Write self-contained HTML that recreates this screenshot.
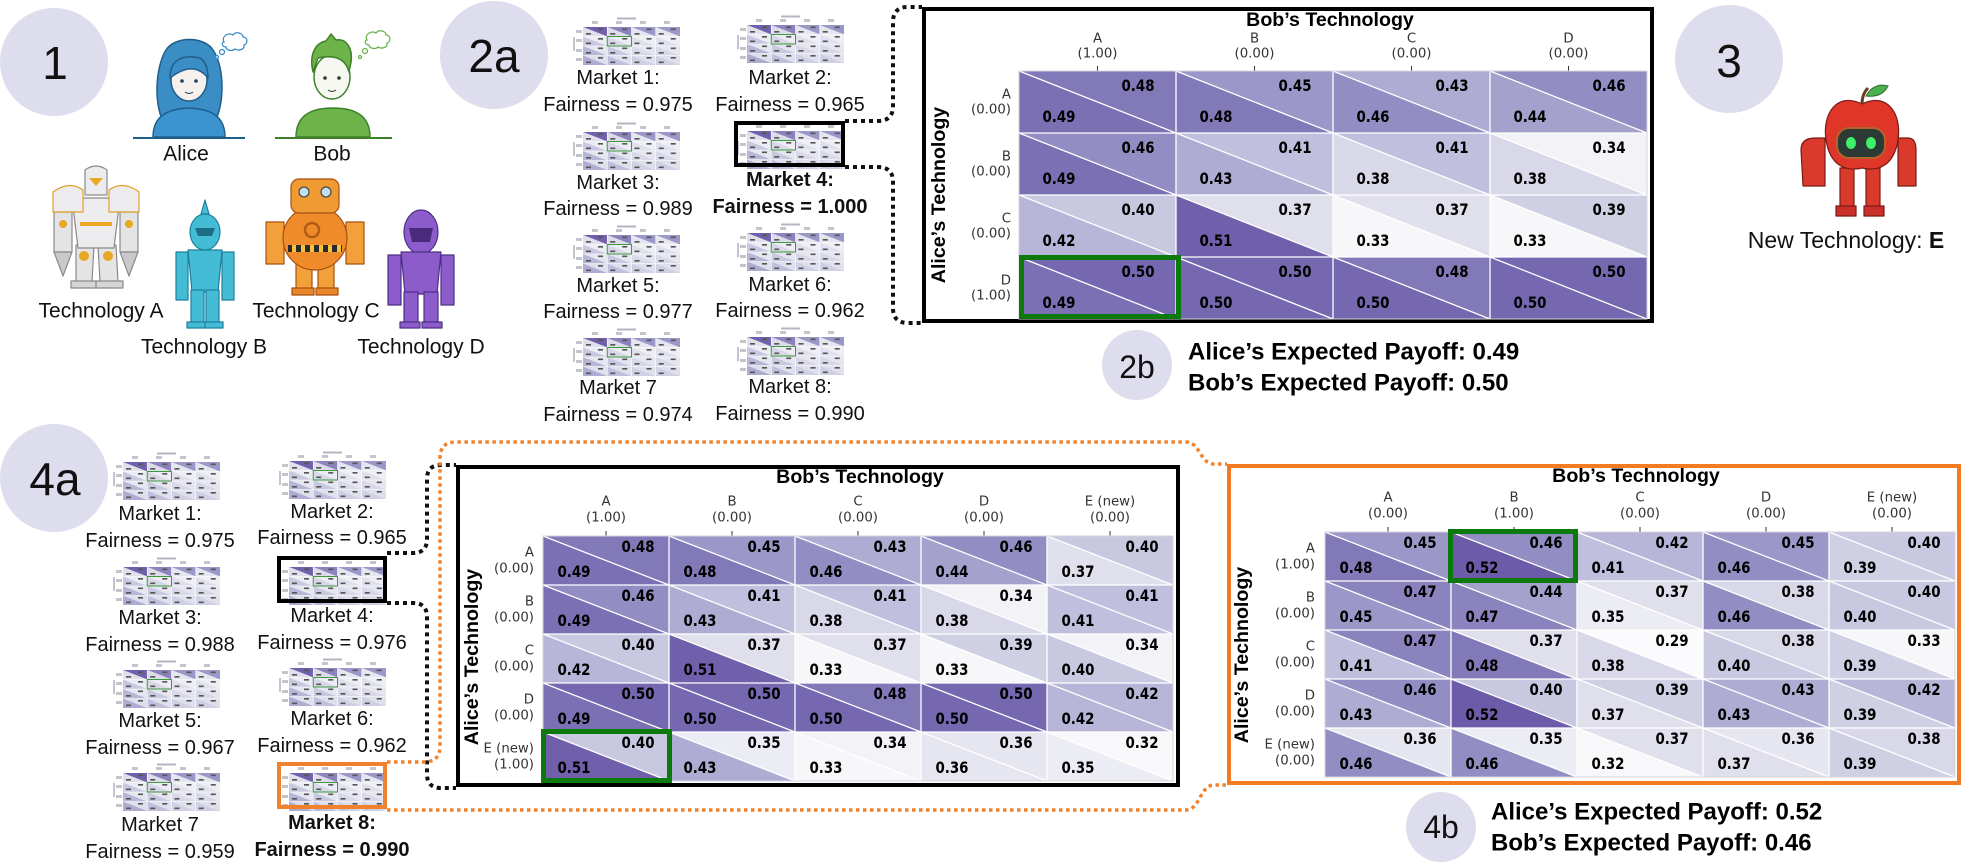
<!DOCTYPE html>
<html><head><meta charset="utf-8">
<style>
body{margin:0;background:#fff}
svg{display:block}
text{font-family:"Liberation Sans",sans-serif;fill:#111}
.c text{font-family:"DejaVu Sans",sans-serif;font-weight:bold;font-size:13.4px;text-anchor:middle;dominant-baseline:central;transform-box:fill-box;transform-origin:center;transform:scaleY(1.18);fill:#000}
.kx text{font-family:"DejaVu Sans",sans-serif;font-size:13.3px;fill:#333;dominant-baseline:central;text-anchor:middle}
.ky text{font-family:"DejaVu Sans",sans-serif;font-size:13.3px;fill:#333;dominant-baseline:central;text-anchor:end}
.ttl{font-weight:bold;font-size:19.6px;text-anchor:middle;dominant-baseline:central;fill:#000}
.lb{font-size:20px;text-anchor:middle;dominant-baseline:central}
.b{font-weight:bold}
.big{font-size:46px;text-anchor:middle;dominant-baseline:central}
.sm{font-size:32px;text-anchor:middle;dominant-baseline:central}
.pay{font-weight:bold;font-size:24px;dominant-baseline:central;fill:#000}
</style></head><body>
<svg width="1965" height="868" viewBox="0 0 1965 868" xmlns="http://www.w3.org/2000/svg">
<defs>
<path id="tU" d="M0 0H157V62Z"/><path id="tL" d="M0 0V62H157Z"/>
<path id="sU" d="M0 0H126V49Z"/><path id="sL" d="M0 0V49H126Z"/>
<path id="qU" d="M0 0h24.25v9.5z"/><path id="qL" d="M0 0v9.5h24.25z"/>
<path id="sp" d="M15 1.5h5v1.6h-5zM3 6h5v1.6h-5z"/>
<g id="th">
<rect x="44" y="0.5" width="19" height="2" fill="#b5b5c0"/>
<g fill="#c4c4cc"><rect x="19" y="4" width="6" height="3"/><rect x="43" y="4" width="6" height="3"/><rect x="67" y="4" width="6" height="3"/><rect x="91" y="4" width="6" height="3"/><rect x="3" y="13" width="6" height="3"/><rect x="3" y="22" width="6" height="3"/><rect x="3" y="32" width="6" height="3"/><rect x="3" y="41" width="6" height="3"/><rect x="0" y="20" width="2" height="14"/></g>
<use href="#qU" x="10" y="10" fill="#7060ac"/><use href="#qL" x="10" y="10" fill="#e0e0ed"/>
<use href="#qU" x="34.25" y="10" fill="#8a83be"/><use href="#qL" x="34.25" y="10" fill="#dcdcea"/>
<use href="#qU" x="58.5" y="10" fill="#9b97c8"/><use href="#qL" x="58.5" y="10" fill="#e6e6f0"/>
<use href="#qU" x="82.75" y="10" fill="#9b97c8"/><use href="#qL" x="82.75" y="10" fill="#e6e6f0"/>
<use href="#qU" x="10" y="19.5" fill="#ececf4"/><use href="#qL" x="10" y="19.5" fill="#c8c8e1"/>
<use href="#qU" x="34.25" y="19.5" fill="#ececf4"/><use href="#qL" x="34.25" y="19.5" fill="#d8d8e9"/>
<use href="#qU" x="58.5" y="19.5" fill="#eeeef5"/><use href="#qL" x="58.5" y="19.5" fill="#e0e0ed"/>
<use href="#qU" x="82.75" y="19.5" fill="#eeeef5"/><use href="#qL" x="82.75" y="19.5" fill="#e0e0ed"/>
<use href="#qU" x="10" y="29" fill="#e6e6f0"/><use href="#qL" x="10" y="29" fill="#b7b6d8"/>
<use href="#qU" x="34.25" y="29" fill="#e6e6f0"/><use href="#qL" x="34.25" y="29" fill="#c8c8e1"/>
<use href="#qU" x="58.5" y="29" fill="#e6e6f0"/><use href="#qL" x="58.5" y="29" fill="#d8d8e9"/>
<use href="#qU" x="82.75" y="29" fill="#e6e6f0"/><use href="#qL" x="82.75" y="29" fill="#d8d8e9"/>
<use href="#qU" x="10" y="38.5" fill="#e0e0ed"/><use href="#qL" x="10" y="38.5" fill="#aeacd3"/>
<use href="#qU" x="34.25" y="38.5" fill="#e0e0ed"/><use href="#qL" x="34.25" y="38.5" fill="#c0bfdd"/>
<use href="#qU" x="58.5" y="38.5" fill="#e0e0ed"/><use href="#qL" x="58.5" y="38.5" fill="#d0d0e5"/>
<use href="#qU" x="82.75" y="38.5" fill="#e0e0ed"/><use href="#qL" x="82.75" y="38.5" fill="#d0d0e5"/>
<path d="M34.25 10V48M58.5 10V48M82.75 10V48M10 19.5H107M10 29H107M10 38.5H107" stroke="#fff" stroke-width="0.6"/>
<g fill="#555">
<use href="#sp" x="10" y="10"/><use href="#sp" x="34.25" y="10"/><use href="#sp" x="58.5" y="10"/><use href="#sp" x="82.75" y="10"/>
<use href="#sp" x="10" y="19.5"/><use href="#sp" x="34.25" y="19.5"/><use href="#sp" x="58.5" y="19.5"/><use href="#sp" x="82.75" y="19.5"/>
<use href="#sp" x="10" y="29"/><use href="#sp" x="34.25" y="29"/><use href="#sp" x="58.5" y="29"/><use href="#sp" x="82.75" y="29"/>
<use href="#sp" x="10" y="38.5"/><use href="#sp" x="34.25" y="38.5"/><use href="#sp" x="58.5" y="38.5"/><use href="#sp" x="82.75" y="38.5"/>
</g>
<rect x="34.25" y="19.5" width="24.25" height="9.5" fill="none" stroke="#3d9b3d" stroke-width="1"/>
</g>
</defs>

<!-- circles -->
<g fill="#dddded">
<circle cx="54" cy="62" r="54"/><circle cx="494" cy="55" r="54"/><circle cx="1729" cy="59" r="54"/><circle cx="54" cy="478" r="54"/>
<circle cx="1137" cy="365" r="35"/><circle cx="1441" cy="827" r="35"/>
</g>
<text class="big" x="55" y="63">1</text>
<text class="big" x="494" y="56">2a</text>
<text class="big" x="1729" y="61">3</text>
<text class="big" x="55" y="479">4a</text>
<text class="sm" x="1137" y="367">2b</text>
<text class="sm" x="1441" y="827">4b</text>

<!-- Alice -->
<g stroke="#1f5e8a" stroke-width="1.5" stroke-linejoin="round">
<path d="M163 122C152 96 158 62 166 50C175 36 204 36 213 50C223 64 226 98 215 122Z" fill="#3b8dc6"/>
<path d="M153 137C153 117 166 109 189 108C212 109 225 117 225 137Z" fill="#3b93cf"/>
<ellipse cx="189" cy="80" rx="18" ry="21" fill="#f6f1ed"/>
<path d="M170 78C170 60 182 54 200 58C206 62 208 70 208 78C200 68 188 64 170 78Z" fill="#3b8dc6"/>
</g>
<circle cx="182" cy="81" r="1.8" fill="#1f3f5a"/><circle cx="196" cy="81" r="1.8" fill="#1f3f5a"/>
<path d="M185 92q4 3 8 0" stroke="#1f3f5a" fill="none"/>
<line x1="133" y1="138" x2="245" y2="138" stroke="#1f5e8a" stroke-width="2"/>
<g fill="#fff" stroke="#3b8dc6" stroke-width="1.3"><circle cx="217" cy="57" r="1.5"/><circle cx="222" cy="52" r="2.5"/><path d="M224 42c-3-6 5-10 9-7c3-4 10-2 10 2c5 0 5 7 1 8c1 5-6 6-9 4c-3 3-9 1-9-2c-4 0-5-5-2-5z"/></g>
<text class="lb" x="186" y="154" style="font-size:21px">Alice</text>

<!-- Bob -->
<g stroke="#3e7f2a" stroke-width="1.5" stroke-linejoin="round">
<path d="M296 137C296 116 310 108 333 108C356 108 370 116 370 137Z" fill="#6cb34a"/>
<ellipse cx="332" cy="77" rx="18" ry="22" fill="#f5f7f0"/>
<path d="M313 72C309 55 315 43 326 41L331 34L336 40C346 38 353 48 351 62L349 72C346 60 337 54 318 58Z" fill="#6cb34a"/>
</g>
<circle cx="325" cy="78" r="1.8" fill="#24401a"/><circle cx="339" cy="78" r="1.8" fill="#24401a"/>
<path d="M328 90q4 3 8 0" stroke="#24401a" fill="none"/>
<line x1="275" y1="138" x2="392" y2="138" stroke="#3e7f2a" stroke-width="2"/>
<g fill="#fff" stroke="#6cb34a" stroke-width="1.3"><circle cx="360" cy="57" r="1.5"/><circle cx="365" cy="51" r="2.5"/><path d="M367 40c-3-6 5-10 9-7c3-4 10-2 10 2c5 0 5 7 1 8c1 5-6 6-9 4c-3 3-9 1-9-2c-4 0-5-5-2-5z"/></g>
<text class="lb" x="332" y="154" style="font-size:21px">Bob</text>

<!-- Tech A -->
<g stroke="#8a8a8a" stroke-width="1.2" stroke-linejoin="round">
<path d="M76 245h18l-2 37h-16zM98 245h18l2 37h-18z" fill="#e4e4e6"/>
<path d="M71 281h25v7h-25zM96 281h27v7h-27z" fill="#d6d6d9"/>
<path d="M54 212h18v40h-18zM120 212h18v40h-18z" fill="#e4e4e6"/>
<path d="M54 252h18l-9 24zM120 252h18l-9 24z" fill="#c9c9cd"/>
<path d="M72 198h48l-6 50h-36z" fill="#ececee"/>
<path d="M53 192q16-12 30-2v22h-30zM109 190q14-10 30 2v20h-30z" fill="#ececee" stroke="#e0a326"/>
<path d="M85 170q11-8 22 0v25h-22z" fill="#ececee"/>
</g>
<g fill="#e9a823"><path d="M89 178h14l-7 8z"/><rect x="80" y="222" width="32" height="4"/><circle cx="84" cy="256" r="5"/><circle cx="108" cy="256" r="5"/><circle cx="63" cy="224" r="4"/><circle cx="129" cy="224" r="4"/></g>
<text class="lb" x="101" y="311" style="font-size:21px">Technology A</text>

<!-- Tech B -->
<g stroke="#1f7f9e" stroke-width="1.2" stroke-linejoin="round" fill="#44bcd6">
<path d="M205 200l4 14h-8z"/>
<ellipse cx="205" cy="232" rx="15" ry="18"/>
<path d="M188 250h34l-4 42h-26z"/>
<path d="M176 252h12v48h-12zM222 252h12v48h-12z"/>
<path d="M191 290h13v34h-13zM206 290h13v34h-13z"/>
<path d="M187 322h18v6h-18zM205 322h18v6h-18z"/>
</g>
<path d="M195 228h20l-3 8h-14z" fill="#1e6d86"/>
<text class="lb" x="204" y="347" style="font-size:21px">Technology B</text>

<!-- Tech C -->
<g stroke="#a84f10" stroke-width="1.2" stroke-linejoin="round">
<path d="M296 262h16v28h-16zM318 262h16v28h-16z" fill="#f2a13a"/>
<path d="M292 288h22v7h-22zM316 288h22v7h-22z" fill="#e8862a"/>
<path d="M266 222h18v42h-18zM346 222h18v42h-18z" fill="#f2a13a"/>
<ellipse cx="315" cy="238" rx="32" ry="32" fill="#ef8b2a"/>
<rect x="291" y="179" width="48" height="34" rx="8" fill="#f09a33"/>
</g>
<rect x="288" y="245" width="54" height="7" fill="#2a2a2a"/>
<g fill="#f6c23c"><rect x="292" y="245" width="4" height="7"/><rect x="301" y="245" width="4" height="7"/><rect x="310" y="245" width="4" height="7"/><rect x="319" y="245" width="4" height="7"/><rect x="328" y="245" width="4" height="7"/><rect x="337" y="245" width="4" height="7"/></g>
<circle cx="304" cy="192" r="5" fill="#bfe0f0" stroke="#333"/><circle cx="326" cy="192" r="5" fill="#bfe0f0" stroke="#333"/>
<circle cx="312" cy="230" r="7" fill="none" stroke="#b35a14" stroke-width="2.5"/>
<text class="lb" x="316" y="311" style="font-size:21px">Technology C</text>

<!-- Tech D -->
<g stroke="#4e2f86" stroke-width="1.2" stroke-linejoin="round" fill="#8c5ccb">
<ellipse cx="421" cy="232" rx="17" ry="22"/>
<path d="M401 252h40l-4 42h-32z"/>
<path d="M388 255h13v50h-13zM441 255h13v50h-13z"/>
<path d="M404 292h14v32h-14zM424 292h14v32h-14z"/>
<path d="M400 322h20v6h-20zM422 322h20v6h-20z"/>
</g>
<path d="M409 228h24l-3 14h-18z" fill="#4a2a7a"/>
<text class="lb" x="421" y="347" style="font-size:21px">Technology D</text>

<!-- Apple robot -->
<g stroke="#7a1a14" stroke-width="1.2" stroke-linejoin="round">
<path d="M1840 168h14v40h-14zM1866 168h14v40h-14z" fill="#d93a2c"/>
<path d="M1836 206h20v10h-20zM1864 206h20v10h-20z" fill="#c9302a"/>
<path d="M1801 150q0-12 14-12h10v48h-22z" fill="#d93a2c"/>
<path d="M1898 138h10q8 0 8 12v36h-18z" fill="#d93a2c"/>
<path d="M1862 104C1838 92 1822 112 1826 140C1830 165 1845 172 1862 168C1879 172 1894 165 1898 140C1902 112 1886 92 1862 104Z" fill="#e0362a"/>
</g>
<path d="M1862 104q0-10 6-16" stroke="#6b3b1a" stroke-width="3" fill="none"/>
<path d="M1866 96q8-14 22-10q-6 12-22 10z" fill="#4caf50" stroke="#2c6e2f"/>
<rect x="1837" y="128" width="48" height="30" rx="12" fill="#2b3a35" stroke="#b3642d" stroke-width="2"/>
<ellipse cx="1851" cy="143" rx="5" ry="6" fill="#3ef06a"/><ellipse cx="1871" cy="143" rx="5" ry="6" fill="#3ef06a"/>
<text x="1846" y="240" style="font-size:23px;text-anchor:middle;dominant-baseline:central">New Technology: <tspan class="b">E</tspan></text>

<!-- 2a thumbnails & labels -->
<use href="#th" x="573" y="17"/><use href="#th" x="737" y="15"/>
<use href="#th" x="573" y="122"/><use href="#th" x="737" y="121"/>
<use href="#th" x="573" y="225"/><use href="#th" x="737" y="223"/>
<use href="#th" x="573" y="328"/><use href="#th" x="737" y="327"/>
<rect x="736" y="123" width="107" height="42" fill="none" stroke="#000" stroke-width="4"/>
<text class="lb" x="618" y="78">Market 1:</text><text class="lb" x="618" y="105">Fairness = 0.975</text>
<text class="lb" x="790" y="78">Market 2:</text><text class="lb" x="790" y="105">Fairness = 0.965</text>
<text class="lb" x="618" y="183">Market 3:</text><text class="lb" x="618" y="209">Fairness = 0.989</text>
<text class="lb b" x="790" y="180">Market 4:</text><text class="lb b" x="790" y="207">Fairness = 1.000</text>
<text class="lb" x="618" y="286">Market 5:</text><text class="lb" x="618" y="312">Fairness = 0.977</text>
<text class="lb" x="790" y="285">Market 6:</text><text class="lb" x="790" y="311">Fairness = 0.962</text>
<text class="lb" x="618" y="388">Market 7</text><text class="lb" x="618" y="415">Fairness = 0.974</text>
<text class="lb" x="790" y="387">Market 8:</text><text class="lb" x="790" y="414">Fairness = 0.990</text>

<!-- 4a thumbnails & labels -->
<use href="#th" x="113" y="452"/><use href="#th" x="279" y="451"/>
<use href="#th" x="113" y="557"/><use href="#th" x="279" y="557"/>
<use href="#th" x="113" y="660"/><use href="#th" x="279" y="658"/>
<use href="#th" x="113" y="763"/><use href="#th" x="279" y="763"/>
<rect x="279" y="558" width="106" height="43" fill="none" stroke="#000" stroke-width="4"/>
<rect x="279" y="764" width="106" height="43" fill="none" stroke="#f0822d" stroke-width="4"/>
<text class="lb" x="160" y="514">Market 1:</text><text class="lb" x="160" y="541">Fairness = 0.975</text>
<text class="lb" x="332" y="512">Market 2:</text><text class="lb" x="332" y="538">Fairness = 0.965</text>
<text class="lb" x="160" y="618">Market 3:</text><text class="lb" x="160" y="645">Fairness = 0.988</text>
<text class="lb" x="332" y="616">Market 4:</text><text class="lb" x="332" y="643">Fairness = 0.976</text>
<text class="lb" x="160" y="721">Market 5:</text><text class="lb" x="160" y="748">Fairness = 0.967</text>
<text class="lb" x="332" y="719">Market 6:</text><text class="lb" x="332" y="746">Fairness = 0.962</text>
<text class="lb" x="160" y="825">Market 7</text><text class="lb" x="160" y="852">Fairness = 0.959</text>
<text class="lb b" x="332" y="823">Market 8:</text><text class="lb b" x="332" y="850">Fairness = 0.990</text>

<!-- connectors -->
<g fill="none" stroke="#111" stroke-width="4" stroke-dasharray="4 4">
<path d="M845 121H878Q893 121 893 106V22Q893 7 908 7H922"/>
<path d="M845 167H878Q893 167 893 182V308Q893 323 908 323H922"/>
<path d="M387 553H413Q427 553 427 539V479Q427 465 441 465H456"/>
<path d="M387 603H413Q427 603 427 617V774Q427 788 441 788H456"/>
</g>
<g fill="none" stroke="#f0822d" stroke-width="3.5" stroke-dasharray="3.5 3.5">
<path d="M387 762H424Q440 762 440 746V458Q440 442 456 442H1186C1200 442 1200 464 1214 464H1227"/>
<path d="M387 810H1186C1200 810 1200 785 1214 785H1227"/>
</g>

<!-- ===== TOP MATRIX ===== -->
<rect x="924" y="9" width="728" height="312" fill="#fff" stroke="#000" stroke-width="4"/>
<text class="ttl" x="1330" y="20">Bob’s Technology</text>
<text class="ttl" transform="translate(939 195) rotate(-90)">Alice’s Technology</text>
<g class="kx">
<text x="1097.5" y="39">A</text><text x="1097.5" y="54">(1.00)</text>
<text x="1254.5" y="39">B</text><text x="1254.5" y="54">(0.00)</text>
<text x="1411.5" y="39">C</text><text x="1411.5" y="54">(0.00)</text>
<text x="1568.5" y="39">D</text><text x="1568.5" y="54">(0.00)</text>
</g>
<path d="M1097.5 66V71M1254.5 66V71M1411.5 66V71M1568.5 66V71" stroke="#333"/>
<g class="ky">
<text x="1011" y="95">A</text><text x="1011" y="110">(0.00)</text>
<text x="1011" y="157">B</text><text x="1011" y="172">(0.00)</text>
<text x="1011" y="219">C</text><text x="1011" y="234">(0.00)</text>
<text x="1011" y="281">D</text><text x="1011" y="296">(1.00)</text>
</g>
<g class="c">
<g transform="translate(1019 71)"><use href="#tU" fill="#8279b9"/><use href="#tL" fill="#7b70b4"/><text x="119" y="15">0.48</text><text x="40" y="46">0.49</text></g>
<g transform="translate(1176 71)"><use href="#tU" fill="#9b97c8"/><use href="#tL" fill="#8279b9"/><text x="119" y="15">0.45</text><text x="40" y="46">0.48</text></g>
<g transform="translate(1333 71)"><use href="#tU" fill="#aeacd3"/><use href="#tL" fill="#928dc3"/><text x="119" y="15">0.43</text><text x="40" y="46">0.46</text></g>
<g transform="translate(1490 71)"><use href="#tU" fill="#928dc3"/><use href="#tL" fill="#a4a1cd"/><text x="119" y="15">0.46</text><text x="40" y="46">0.44</text></g>
<g transform="translate(1019 133)"><use href="#tU" fill="#928dc3"/><use href="#tL" fill="#7b70b4"/><text x="119" y="15">0.46</text><text x="40" y="46">0.49</text></g>
<g transform="translate(1176 133)"><use href="#tU" fill="#c0bfdd"/><use href="#tL" fill="#aeacd3"/><text x="119" y="15">0.41</text><text x="40" y="46">0.43</text></g>
<g transform="translate(1333 133)"><use href="#tU" fill="#c0bfdd"/><use href="#tL" fill="#d8d8e9"/><text x="119" y="15">0.41</text><text x="40" y="46">0.38</text></g>
<g transform="translate(1490 133)"><use href="#tU" fill="#f2f2f7"/><use href="#tL" fill="#d8d8e9"/><text x="119" y="15">0.34</text><text x="40" y="46">0.38</text></g>
<g transform="translate(1019 195)"><use href="#tU" fill="#c8c8e1"/><use href="#tL" fill="#b7b6d8"/><text x="119" y="15">0.40</text><text x="40" y="46">0.42</text></g>
<g transform="translate(1176 195)"><use href="#tU" fill="#e0e0ed"/><use href="#tL" fill="#7060ac"/><text x="119" y="15">0.37</text><text x="40" y="46">0.51</text></g>
<g transform="translate(1333 195)"><use href="#tU" fill="#e0e0ed"/><use href="#tL" fill="#f7f7fa"/><text x="119" y="15">0.37</text><text x="40" y="46">0.33</text></g>
<g transform="translate(1490 195)"><use href="#tU" fill="#d0d0e5"/><use href="#tL" fill="#f7f7fa"/><text x="119" y="15">0.39</text><text x="40" y="46">0.33</text></g>
<g transform="translate(1019 257)"><use href="#tU" fill="#7567b0"/><use href="#tL" fill="#7b70b4"/><text x="119" y="15">0.50</text><text x="40" y="46">0.49</text></g>
<g transform="translate(1176 257)"><use href="#tU" fill="#7567b0"/><use href="#tL" fill="#7567b0"/><text x="119" y="15">0.50</text><text x="40" y="46">0.50</text></g>
<g transform="translate(1333 257)"><use href="#tU" fill="#8279b9"/><use href="#tL" fill="#7567b0"/><text x="119" y="15">0.48</text><text x="40" y="46">0.50</text></g>
<g transform="translate(1490 257)"><use href="#tU" fill="#7567b0"/><use href="#tL" fill="#7567b0"/><text x="119" y="15">0.50</text><text x="40" y="46">0.50</text></g>
</g>
<path d="M1176 71V319M1333 71V319M1490 71V319M1019 133H1647M1019 195H1647M1019 257H1647M1019 71l157 62m0-62l157 62m0-62l157 62m0-62l157 62M1019 133l157 62m0-62l157 62m0-62l157 62m0-62l157 62M1019 195l157 62m0-62l157 62m0-62l157 62m0-62l157 62M1019 257l157 62m0-62l157 62m0-62l157 62m0-62l157 62" stroke="#fff" stroke-width="1.3" fill="none"/>
<rect x="1019" y="71" width="628" height="248" fill="none" stroke="#d4d4dc" stroke-width="1"/>
<rect x="1021.5" y="257.5" width="157" height="59" fill="none" stroke="#0b7a0b" stroke-width="5"/>

<text class="pay" x="1188" y="352">Alice’s Expected Payoff: 0.49</text>
<text class="pay" x="1188" y="383">Bob’s Expected Payoff: 0.50</text>

<!-- ===== LOWER LEFT MATRIX ===== -->
<rect x="458" y="467" width="720" height="318" fill="#fff" stroke="#000" stroke-width="4"/>
<text class="ttl" x="860" y="477">Bob’s Technology</text>
<text class="ttl" transform="translate(472 657) rotate(-90)">Alice’s Technology</text>
<g class="kx">
<text x="606" y="502">A</text><text x="606" y="518">(1.00)</text>
<text x="732" y="502">B</text><text x="732" y="518">(0.00)</text>
<text x="858" y="502">C</text><text x="858" y="518">(0.00)</text>
<text x="984" y="502">D</text><text x="984" y="518">(0.00)</text>
<text x="1110" y="502">E (new)</text><text x="1110" y="518">(0.00)</text>
</g>
<path d="M606 531V536M732 531V536M858 531V536M984 531V536M1110 531V536" stroke="#333"/>
<g class="ky">
<text x="534" y="553">A</text><text x="534" y="569">(0.00)</text>
<text x="534" y="602">B</text><text x="534" y="618">(0.00)</text>
<text x="534" y="651">C</text><text x="534" y="667">(0.00)</text>
<text x="534" y="700">D</text><text x="534" y="716">(0.00)</text>
<text x="534" y="749">E (new)</text><text x="534" y="765">(1.00)</text>
</g>
<g class="c">
<g transform="translate(543 536)"><use href="#sU" fill="#8279b9"/><use href="#sL" fill="#7b70b4"/><text x="95" y="11">0.48</text><text x="31" y="36">0.49</text></g>
<g transform="translate(669 536)"><use href="#sU" fill="#9b97c8"/><use href="#sL" fill="#8279b9"/><text x="95" y="11">0.45</text><text x="31" y="36">0.48</text></g>
<g transform="translate(795 536)"><use href="#sU" fill="#aeacd3"/><use href="#sL" fill="#928dc3"/><text x="95" y="11">0.43</text><text x="31" y="36">0.46</text></g>
<g transform="translate(921 536)"><use href="#sU" fill="#928dc3"/><use href="#sL" fill="#a4a1cd"/><text x="95" y="11">0.46</text><text x="31" y="36">0.44</text></g>
<g transform="translate(1047 536)"><use href="#sU" fill="#c8c8e1"/><use href="#sL" fill="#e0e0ed"/><text x="95" y="11">0.40</text><text x="31" y="36">0.37</text></g>
<g transform="translate(543 585)"><use href="#sU" fill="#928dc3"/><use href="#sL" fill="#7b70b4"/><text x="95" y="11">0.46</text><text x="31" y="36">0.49</text></g>
<g transform="translate(669 585)"><use href="#sU" fill="#c0bfdd"/><use href="#sL" fill="#aeacd3"/><text x="95" y="11">0.41</text><text x="31" y="36">0.43</text></g>
<g transform="translate(795 585)"><use href="#sU" fill="#c0bfdd"/><use href="#sL" fill="#d8d8e9"/><text x="95" y="11">0.41</text><text x="31" y="36">0.38</text></g>
<g transform="translate(921 585)"><use href="#sU" fill="#f2f2f7"/><use href="#sL" fill="#d8d8e9"/><text x="95" y="11">0.34</text><text x="31" y="36">0.38</text></g>
<g transform="translate(1047 585)"><use href="#sU" fill="#c0bfdd"/><use href="#sL" fill="#c0bfdd"/><text x="95" y="11">0.41</text><text x="31" y="36">0.41</text></g>
<g transform="translate(543 634)"><use href="#sU" fill="#c8c8e1"/><use href="#sL" fill="#b7b6d8"/><text x="95" y="11">0.40</text><text x="31" y="36">0.42</text></g>
<g transform="translate(669 634)"><use href="#sU" fill="#e0e0ed"/><use href="#sL" fill="#7060ac"/><text x="95" y="11">0.37</text><text x="31" y="36">0.51</text></g>
<g transform="translate(795 634)"><use href="#sU" fill="#e0e0ed"/><use href="#sL" fill="#f7f7fa"/><text x="95" y="11">0.37</text><text x="31" y="36">0.33</text></g>
<g transform="translate(921 634)"><use href="#sU" fill="#d0d0e5"/><use href="#sL" fill="#f7f7fa"/><text x="95" y="11">0.39</text><text x="31" y="36">0.33</text></g>
<g transform="translate(1047 634)"><use href="#sU" fill="#f2f2f7"/><use href="#sL" fill="#c8c8e1"/><text x="95" y="11">0.34</text><text x="31" y="36">0.40</text></g>
<g transform="translate(543 683)"><use href="#sU" fill="#7567b0"/><use href="#sL" fill="#7b70b4"/><text x="95" y="11">0.50</text><text x="31" y="36">0.49</text></g>
<g transform="translate(669 683)"><use href="#sU" fill="#7567b0"/><use href="#sL" fill="#7567b0"/><text x="95" y="11">0.50</text><text x="31" y="36">0.50</text></g>
<g transform="translate(795 683)"><use href="#sU" fill="#8279b9"/><use href="#sL" fill="#7567b0"/><text x="95" y="11">0.48</text><text x="31" y="36">0.50</text></g>
<g transform="translate(921 683)"><use href="#sU" fill="#7567b0"/><use href="#sL" fill="#7567b0"/><text x="95" y="11">0.50</text><text x="31" y="36">0.50</text></g>
<g transform="translate(1047 683)"><use href="#sU" fill="#b7b6d8"/><use href="#sL" fill="#b7b6d8"/><text x="95" y="11">0.42</text><text x="31" y="36">0.42</text></g>
<g transform="translate(543 732)"><use href="#sU" fill="#c8c8e1"/><use href="#sL" fill="#7060ac"/><text x="95" y="11">0.40</text><text x="31" y="36">0.51</text></g>
<g transform="translate(669 732)"><use href="#sU" fill="#ececf4"/><use href="#sL" fill="#aeacd3"/><text x="95" y="11">0.35</text><text x="31" y="36">0.43</text></g>
<g transform="translate(795 732)"><use href="#sU" fill="#f2f2f7"/><use href="#sL" fill="#f7f7fa"/><text x="95" y="11">0.34</text><text x="31" y="36">0.33</text></g>
<g transform="translate(921 732)"><use href="#sU" fill="#e6e6f0"/><use href="#sL" fill="#e6e6f0"/><text x="95" y="11">0.36</text><text x="31" y="36">0.36</text></g>
<g transform="translate(1047 732)"><use href="#sU" fill="#f8f8fb"/><use href="#sL" fill="#ececf4"/><text x="95" y="11">0.32</text><text x="31" y="36">0.35</text></g>
</g>
<path d="M669 536V781M795 536V781M921 536V781M1047 536V781M543 585H1173M543 634H1173M543 683H1173M543 732H1173M543 536l126 49m0-49l126 49m0-49l126 49m0-49l126 49m0-49l126 49M543 585l126 49m0-49l126 49m0-49l126 49m0-49l126 49m0-49l126 49M543 634l126 49m0-49l126 49m0-49l126 49m0-49l126 49m0-49l126 49M543 683l126 49m0-49l126 49m0-49l126 49m0-49l126 49m0-49l126 49M543 732l126 49m0-49l126 49m0-49l126 49m0-49l126 49m0-49l126 49" stroke="#fff" stroke-width="1.3" fill="none"/>
<rect x="543" y="536" width="630" height="245" fill="none" stroke="#d4d4dc" stroke-width="1"/>
<rect x="543.5" y="731.5" width="126" height="49" fill="none" stroke="#0b7a0b" stroke-width="5"/>

<!-- ===== LOWER RIGHT MATRIX ===== -->
<rect x="1229" y="466" width="730" height="317" fill="#fff" stroke="#f37b21" stroke-width="4"/>
<text class="ttl" x="1636" y="476">Bob’s Technology</text>
<text class="ttl" transform="translate(1242 655) rotate(-90)">Alice’s Technology</text>
<g class="kx">
<text x="1388" y="498">A</text><text x="1388" y="514">(0.00)</text>
<text x="1514" y="498">B</text><text x="1514" y="514">(1.00)</text>
<text x="1640" y="498">C</text><text x="1640" y="514">(0.00)</text>
<text x="1766" y="498">D</text><text x="1766" y="514">(0.00)</text>
<text x="1892" y="498">E (new)</text><text x="1892" y="514">(0.00)</text>
</g>
<path d="M1388 527V532M1514 527V532M1640 527V532M1766 527V532M1892 527V532" stroke="#333"/>
<g class="ky">
<text x="1315" y="549">A</text><text x="1315" y="565">(1.00)</text>
<text x="1315" y="598">B</text><text x="1315" y="614">(0.00)</text>
<text x="1315" y="647">C</text><text x="1315" y="663">(0.00)</text>
<text x="1315" y="696">D</text><text x="1315" y="712">(0.00)</text>
<text x="1315" y="745">E (new)</text><text x="1315" y="761">(0.00)</text>
</g>
<g class="c">
<g transform="translate(1325 532)"><use href="#sU" fill="#9b97c8"/><use href="#sL" fill="#8279b9"/><text x="95" y="11">0.45</text><text x="31" y="36">0.48</text></g>
<g transform="translate(1451 532)"><use href="#sU" fill="#928dc3"/><use href="#sL" fill="#6c5ba9"/><text x="95" y="11">0.46</text><text x="31" y="36">0.52</text></g>
<g transform="translate(1577 532)"><use href="#sU" fill="#b7b6d8"/><use href="#sL" fill="#c0bfdd"/><text x="95" y="11">0.42</text><text x="31" y="36">0.41</text></g>
<g transform="translate(1703 532)"><use href="#sU" fill="#9b97c8"/><use href="#sL" fill="#928dc3"/><text x="95" y="11">0.45</text><text x="31" y="36">0.46</text></g>
<g transform="translate(1829 532)"><use href="#sU" fill="#c8c8e1"/><use href="#sL" fill="#d0d0e5"/><text x="95" y="11">0.40</text><text x="31" y="36">0.39</text></g>
<g transform="translate(1325 581)"><use href="#sU" fill="#8a83be"/><use href="#sL" fill="#9b97c8"/><text x="95" y="11">0.47</text><text x="31" y="36">0.45</text></g>
<g transform="translate(1451 581)"><use href="#sU" fill="#a4a1cd"/><use href="#sL" fill="#8a83be"/><text x="95" y="11">0.44</text><text x="31" y="36">0.47</text></g>
<g transform="translate(1577 581)"><use href="#sU" fill="#e0e0ed"/><use href="#sL" fill="#ececf4"/><text x="95" y="11">0.37</text><text x="31" y="36">0.35</text></g>
<g transform="translate(1703 581)"><use href="#sU" fill="#d8d8e9"/><use href="#sL" fill="#928dc3"/><text x="95" y="11">0.38</text><text x="31" y="36">0.46</text></g>
<g transform="translate(1829 581)"><use href="#sU" fill="#c8c8e1"/><use href="#sL" fill="#c8c8e1"/><text x="95" y="11">0.40</text><text x="31" y="36">0.40</text></g>
<g transform="translate(1325 630)"><use href="#sU" fill="#8a83be"/><use href="#sL" fill="#c0bfdd"/><text x="95" y="11">0.47</text><text x="31" y="36">0.41</text></g>
<g transform="translate(1451 630)"><use href="#sU" fill="#e0e0ed"/><use href="#sL" fill="#8279b9"/><text x="95" y="11">0.37</text><text x="31" y="36">0.48</text></g>
<g transform="translate(1577 630)"><use href="#sU" fill="#fbfbfd"/><use href="#sL" fill="#d8d8e9"/><text x="95" y="11">0.29</text><text x="31" y="36">0.38</text></g>
<g transform="translate(1703 630)"><use href="#sU" fill="#d8d8e9"/><use href="#sL" fill="#c8c8e1"/><text x="95" y="11">0.38</text><text x="31" y="36">0.40</text></g>
<g transform="translate(1829 630)"><use href="#sU" fill="#f7f7fa"/><use href="#sL" fill="#d0d0e5"/><text x="95" y="11">0.33</text><text x="31" y="36">0.39</text></g>
<g transform="translate(1325 679)"><use href="#sU" fill="#928dc3"/><use href="#sL" fill="#aeacd3"/><text x="95" y="11">0.46</text><text x="31" y="36">0.43</text></g>
<g transform="translate(1451 679)"><use href="#sU" fill="#c8c8e1"/><use href="#sL" fill="#6c5ba9"/><text x="95" y="11">0.40</text><text x="31" y="36">0.52</text></g>
<g transform="translate(1577 679)"><use href="#sU" fill="#d0d0e5"/><use href="#sL" fill="#e0e0ed"/><text x="95" y="11">0.39</text><text x="31" y="36">0.37</text></g>
<g transform="translate(1703 679)"><use href="#sU" fill="#aeacd3"/><use href="#sL" fill="#aeacd3"/><text x="95" y="11">0.43</text><text x="31" y="36">0.43</text></g>
<g transform="translate(1829 679)"><use href="#sU" fill="#b7b6d8"/><use href="#sL" fill="#d0d0e5"/><text x="95" y="11">0.42</text><text x="31" y="36">0.39</text></g>
<g transform="translate(1325 728)"><use href="#sU" fill="#e6e6f0"/><use href="#sL" fill="#928dc3"/><text x="95" y="11">0.36</text><text x="31" y="36">0.46</text></g>
<g transform="translate(1451 728)"><use href="#sU" fill="#ececf4"/><use href="#sL" fill="#928dc3"/><text x="95" y="11">0.35</text><text x="31" y="36">0.46</text></g>
<g transform="translate(1577 728)"><use href="#sU" fill="#e0e0ed"/><use href="#sL" fill="#f8f8fb"/><text x="95" y="11">0.37</text><text x="31" y="36">0.32</text></g>
<g transform="translate(1703 728)"><use href="#sU" fill="#e6e6f0"/><use href="#sL" fill="#e0e0ed"/><text x="95" y="11">0.36</text><text x="31" y="36">0.37</text></g>
<g transform="translate(1829 728)"><use href="#sU" fill="#d8d8e9"/><use href="#sL" fill="#d0d0e5"/><text x="95" y="11">0.38</text><text x="31" y="36">0.39</text></g>
</g>
<path d="M1451 532V777M1577 532V777M1703 532V777M1829 532V777M1325 581H1955M1325 630H1955M1325 679H1955M1325 728H1955M1325 532l126 49m0-49l126 49m0-49l126 49m0-49l126 49m0-49l126 49M1325 581l126 49m0-49l126 49m0-49l126 49m0-49l126 49m0-49l126 49M1325 630l126 49m0-49l126 49m0-49l126 49m0-49l126 49m0-49l126 49M1325 679l126 49m0-49l126 49m0-49l126 49m0-49l126 49m0-49l126 49M1325 728l126 49m0-49l126 49m0-49l126 49m0-49l126 49m0-49l126 49" stroke="#fff" stroke-width="1.3" fill="none"/>
<rect x="1325" y="532" width="630" height="245" fill="none" stroke="#d4d4dc" stroke-width="1"/>
<rect x="1450.5" y="531.5" width="125" height="49" fill="none" stroke="#0b7a0b" stroke-width="5"/>

<text class="pay" x="1491" y="812">Alice’s Expected Payoff: 0.52</text>
<text class="pay" x="1491" y="843">Bob’s Expected Payoff: 0.46</text>
</svg>
</body></html>
